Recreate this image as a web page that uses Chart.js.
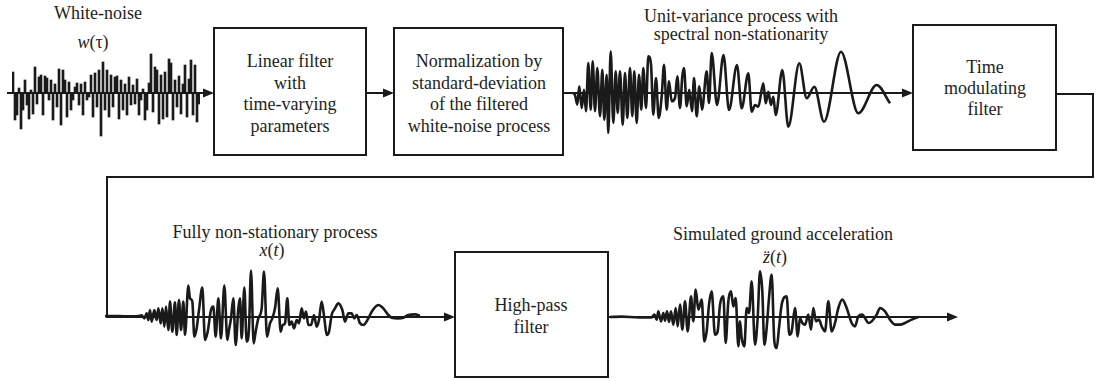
<!DOCTYPE html>
<html>
<head>
<meta charset="utf-8">
<script src="https://cdn.jsdelivr.net/npm/chart.js@4.4.1/dist/chart.umd.min.js"></script>
<style>
  body { margin: 0; background: #fff; }
  #fig { position: relative; width: 1096px; height: 381px; background: #fff; overflow: hidden; }
  #fig svg, #fig canvas { position: absolute; }
  .lbl {
    position: absolute; transform: translateX(-50%); white-space: nowrap; text-align: center;
    font-family: 'Liberation Serif', 'Times New Roman', serif; font-size: 18px; color: #1e1e1e;
  }
</style>
</head>
<body>
<div id="fig">
  <svg width="1096" height="381" viewBox="0 0 1096 381">
    <g fill="none" stroke="#1a1a1a" stroke-width="2">
      <rect x="214" y="28" width="152" height="127"/>
      <rect x="394" y="28" width="169" height="127"/>
      <rect x="913" y="25" width="143" height="125"/>
      <rect x="455" y="252" width="153" height="125"/>
      <path d="M7 93H204M366 93H384M563 93H903M1056 94H1093V177H107V317H445M608 317H948"/>
    </g>
    <g fill="#1a1a1a">
      <polygon points="214,93 203,88.5 203,97.5"/>
      <polygon points="394,93 383,88.5 383,97.5"/>
      <polygon points="913,93 902,88.5 902,97.5"/>
      <polygon points="455,317 444,312.5 444,321.5"/>
      <polygon points="958,317 947,312.5 947,321.5"/>
    </g>
  </svg>

  <div class="lbl" style="left:98px;top:3px;line-height:20px">White-noise</div>
  <div class="lbl" style="left:93px;top:32px;line-height:20px"><i>w</i>(τ)</div>
  <div class="lbl" style="left:290px;top:51px;line-height:21.7px">Linear filter<br>with<br>time-varying<br>parameters</div>
  <div class="lbl" style="left:479px;top:51px;line-height:21.7px">Normalization by<br>standard-deviation<br>of the filtered<br>white-noise process</div>
  <div class="lbl" style="left:741px;top:7px;line-height:18px">Unit-variance process with<br>spectral non-stationarity</div>
  <div class="lbl" style="left:985px;top:57px;line-height:21.2px">Time<br>modulating<br>filter</div>
  <div class="lbl" style="left:275px;top:222px;line-height:20px">Fully non-stationary process</div>
  <div class="lbl" style="left:272px;top:240px;line-height:20px"><i>x</i>(<i>t</i>)</div>
  <div class="lbl" style="left:531px;top:294px;line-height:22px">High-pass<br>filter</div>
  <div class="lbl" style="left:783px;top:224px;line-height:20px">Simulated ground acceleration</div>
  <div class="lbl" style="left:775px;top:247px;line-height:20px"><i>z̈</i>(<i>t</i>)</div>

  <canvas id="noise" width="188" height="92" style="left:12px;top:47px"></canvas>
  <canvas id="unitVar" width="330" height="100" style="left:570px;top:43px"></canvas>
  <canvas id="fullyNS" width="345" height="100" style="left:105px;top:266px"></canvas>
  <canvas id="groundAcc" width="355" height="100" style="left:605px;top:267px"></canvas>
</div>

<script>
const INK = '#1a1a1a';

// white-noise w(tau): bar heights
const noiseValues = [21, -27, -22, 5, -36, -17, 13, -12, -26, 3, -21, 26, -11, 16, 18, -22, 17, 15, -7, 13,
  -27, 9, -14, 24, -32, 23, 13, -24, 11, -17, -7, 6, 10, -12, 9, -22, 11, -7, -4, 18,
  -24, 20, -14, 23, -43, 31, -17, 23, -24, 18, -14, 16, 17, -26, 13, -17, 9, -22, 16, -12,
  8, -11, 14, -22, -7, 4, -27, -17, 10, 39, -19, 26, 23, -31, 18, -26, 21, -24, 34, 30,
  -27, 13, -14, 17, -21, 9, 28, -24, 14, 33, -22, 28, -29, -11];

// unit-variance process with spectral non-stationarity
const unitVarTime = [3, 5, 7.3, 9.3, 11.7, 14, 16, 18.3, 20.7, 22.7, 25, 27.3, 30, 32.3, 34.3, 36.7, 38.3, 40.7, 43.3, 45.7,
  47.7, 50, 52.7, 55, 57.3, 60, 62.3, 64.3, 66.7, 69, 71.3, 73.3, 76, 78.3, 81, 83.3, 86, 88.7, 91.7, 94,
  96.7, 99, 101.7, 105, 107.3, 110, 112.3, 114, 116.7, 119.3, 122, 124, 126.7, 129.3, 132, 136.7, 139, 141.7, 147, 153.5,
  159, 167, 171.7, 178.3, 181.7, 185, 188.3, 193.3, 195.7, 198.3, 201, 203.3, 205.7, 212.3, 218.3, 229.3, 236.7, 244.3, 254, 271,
  288.3, 306.7, 320];
const unitVarValues = [0, -2, -11.7, 6.7, -15, 3.3, -18.3, 30, -16.7, 31.7, -18.3, 25, -23.3, 23.3, -26.7, 18.3, -40, 41.7, -30, 21.7,
  -20, 21.7, -31.7, 20, -25, 25, -23.3, 21.7, -30, 18.3, -16.7, 25, -15, 36.7, 28.3, -21.7, 15, -25, -3.3, 28.3,
  -16.7, 11.7, -8.3, -5, 16.7, -15, 16.7, 25, -13.3, 3.3, -18.3, 15, -23.3, 6.7, -16.7, 21.7, -10, 40, -12, 38,
  -17, 28, -15.3, 19.7, -18.7, -12, -13.7, 9.7, -10.3, 1.3, -12, -3.7, -22, 23, -33.7, 29.7, -5.3, 6.3, -28.7, 41.3,
  -20.3, 8, -10.3];

// fully non-stationary process x(t)
const fullyTime = [0, 20, 60, 100, 110, 118, 125, 130, 135, 140, 148, 155, 160, 167, 172, 178, 183, 190, 195, 202,
  210, 215, 222, 228, 235, 240, 250, 255, 262, 268, 275, 282, 292, 300, 308, 318, 325, 332, 340, 348,
  358, 367, 372, 378, 385, 392, 400, 405, 410, 418, 425, 432, 438, 446, 452, 460, 470, 477, 486, 495,
  502, 510, 518, 527, 533, 540, 547, 553, 560, 567, 575, 582, 590, 597, 603, 610, 618, 627, 635, 642,
  650, 658, 665, 672, 680, 690, 700, 712, 720, 730, 740, 748, 755, 765, 775, 790, 800, 820, 835, 850,
  860, 880, 895, 910, 930, 945];
const fullyValues = [0, 0, -1, 0, 2, -7, 8, -12, 18, -17, 18, -12, 23, -22, 23, -32, 28, -42, 43, -47,
  41, -57, 48, -42, 43, -57, 91, 53, 43, -62, -37, 18, 85, -72, -47, 18, 28, -62, 53, -67,
  91, -72, -42, -7, 53, -87, 23, 53, -67, 85, -77, -37, 136, -82, -47, -7, 23, 133, -62, -22,
  -7, 23, 83, -47, -27, -22, 53, -27, -17, -37, -12, -22, 23, -7, 13, -27, -27, 3, -32, -12,
  43, -7, -57, -47, 3, 23, 38, 18, -17, 8, 8, -7, 3, -22, -27, -7, 13, 33, 23, 3,
  -5, -7, -5, 3, 5, 1];

// simulated ground acceleration z''(t)
const groundTime = [15, 50, 100, 140, 148, 155, 160, 168, 175, 180, 186, 192, 198, 205, 212, 218, 225, 232, 240, 248,
  258, 265, 272, 280, 290, 298, 305, 312, 320, 330, 338, 345, 355, 362, 370, 378, 385, 392, 400, 405,
  410, 418, 425, 432, 440, 450, 458, 465, 472, 478, 485, 492, 500, 508, 515, 522, 530, 545, 553, 560,
  570, 578, 585, 592, 600, 610, 618, 625, 633, 642, 650, 660, 670, 680, 690, 700, 712, 725, 740, 750,
  760, 772, 780, 790, 800, 815, 825, 840, 855, 870, 885, 900, 920, 940];
const groundValues = [0, 1, -1, -1, 7, -8, 17, -13, 12, -11, 17, -15, 17, -23, 27, -28, 37, -38, 47, -43,
  62, -13, 82, 22, 52, -73, -43, 37, 77, -53, -43, 37, 62, -78, 47, 77, 32, 57, -88, -13,
  -63, -88, 27, 12, 107, -83, -3, 137, 77, -83, -33, 57, 127, -73, -93, -33, 37, 62, -53, -43,
  27, -58, -3, -18, -23, 7, -38, 27, -13, -8, -28, -43, 47, -43, -18, 27, 52, 27, -18, -28,
  2, 7, -3, -18, -13, 7, 27, 17, -8, -23, -23, -18, -8, 0];

const bare = {
  responsive: false,
  animation: false,
  events: [],
  layout: { padding: 0 },
  plugins: { legend: { display: false }, tooltip: { enabled: false } },
};

new Chart(document.getElementById('noise'), {
  type: 'bar',
  data: {
    labels: noiseValues.map((v, i) => i),
    datasets: [{
      data: noiseValues,
      backgroundColor: INK,
      borderWidth: 0,
      barPercentage: 1,
      categoryPercentage: 1,
    }],
  },
  options: {
    ...bare,
    scales: {
      x: { display: false },
      y: { display: false, min: -46, max: 46 },
    },
  },
});

function waveChart(id, time, values, xMax, yMax) {
  return new Chart(document.getElementById(id), {
    type: 'line',
    data: {
      datasets: [{
        data: time.map((t, i) => ({ x: t, y: values[i] })),
        borderColor: INK,
        borderWidth: 2.6,
        pointRadius: 0,
        fill: false,
        clip: false,
        cubicInterpolationMode: 'monotone',
      }],
    },
    options: {
      ...bare,
      scales: {
        x: { type: 'linear', display: false, min: 0, max: xMax },
        y: { display: false, min: -yMax, max: yMax },
      },
    },
  });
}

waveChart('unitVar', unitVarTime, unitVarValues, 330, 50);
waveChart('fullyNS', fullyTime, fullyValues, 1035, 150);
waveChart('groundAcc', groundTime, groundValues, 1065, 150);
</script>
</body>
</html>
